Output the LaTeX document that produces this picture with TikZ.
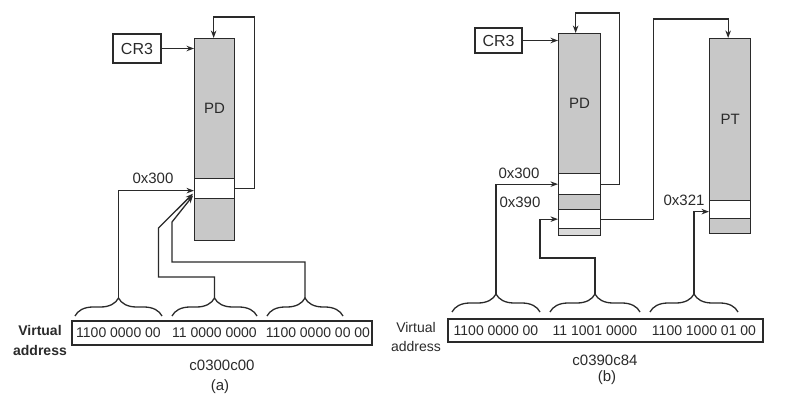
\documentclass[tikz,border=0pt]{standalone}
\usepackage{fontspec}
\setmainfont{Liberation Sans}
\usetikzlibrary{arrows.meta,decorations.pathreplacing,calc}
\definecolor{ink}{HTML}{2A2A2A}
\definecolor{shade}{HTML}{C8C8C8}
\definecolor{lshade}{HTML}{DADADA}
\tikzset{
  ln/.style={draw=ink, line width=1.3pt},
  arr/.style={ln, -{Stealth[length=7.5pt,width=5.5pt]}},
  cell/.style={draw=ink, line width=1.3pt, inner sep=0pt, anchor=north west, minimum width=#1},
  gcell/.style={cell=#1, fill=shade},
  wcell/.style={cell=#1, fill=white},
  lcell/.style={cell=#1, fill=lshade},
  txt/.style={inner sep=0pt, text=ink, font=\fontsize{15}{17}\selectfont},
  addr/.style={inner sep=0pt, text=ink, font=\fontsize{14}{16}\selectfont},
  regbox/.style={draw=ink, line width=1.3pt, inner sep=0pt, text=ink, font=\fontsize{16}{18}\selectfont},
  brc/.style={ln, decorate, decoration={brace, amplitude=18pt}},
}
\begin{document}
\begin{tikzpicture}[x=1pt,y=-1pt]
\useasboundingbox (0,0) rectangle (785,396);

% ---------------- (a) ----------------
\node[regbox, minimum width=48pt, minimum height=29pt] (crA) at (137,48.5) {CR3};
\node[gcell=40pt, minimum height=140pt, txt] (pdA) at (194,38) {PD};
\node[wcell=40pt, minimum height=20pt] (slotA) at (194,178) {};
\node[gcell=40pt, minimum height=42pt] (pdAb) at (194,198) {};
\node[txt] (lA300) at (153,178) {0x300};

\draw[arr] (crA.east) -- (crA.east -| pdA.west);
\draw[arr] (slotA.east) -- ++(19,0) |- ($(pdA.north)+(-1,-21)$) -- ($(pdA.north)+(-1,0)$);

\draw[brc] (75,316) -- (162,316);
\draw[brc] (172,316) -- (257,316);
\draw[brc] (267,316) -- (343,316);
\coordinate (tA1) at (118.5,298);
\coordinate (tA2) at (214.5,298);
\coordinate (tA3) at (305,298);

\draw[arr] (tA1) |- ($(slotA.west)+(0,2)$);
\draw[arr] (tA2) -- ++(0,-21) -- ++(-56,0) -- ++(0,-49) -- ($(slotA.west)+(-1,5)$);
\draw[arr] (tA3) -- ++(0,-36) -- ++(-133,0) -- ++(0,-40) -- ($(slotA.west)+(-1,7)$);

\node[draw=ink, line width=1.3pt, minimum width=300pt, minimum height=24pt, inner sep=0pt] (boxA) at (222,333) {};
\node[addr] (gA1) at (118.5,333) {1100 0000 00};
\node[addr] (gA2) at (214.5,333) {11 0000 0000};
\node[addr] (gA3) at (318,333) {1100 0000 00 00};
\node[addr, font=\fontsize{14}{20}\selectfont\bfseries, align=center] (vA) at (40,340) {Virtual\\address};
\node[txt] (hexA) at (222,365) {c0300c00};
\node[txt] (capA) at (220,387) {(a)};

% ---------------- (b) ----------------
\node[regbox, minimum width=47pt, minimum height=25pt] (crB) at (498.5,40.5) {CR3};
\node[gcell=42pt, minimum height=140pt, txt] (pdB) at (558,33) {PD};
\node[wcell=42pt, minimum height=21pt] (s1B) at (558,173) {};
\node[gcell=42pt, minimum height=15pt] (g2B) at (558,194) {};
\node[wcell=42pt, minimum height=19pt] (s2B) at (558,209) {};
\node[lcell=42pt, minimum height=7pt] (stB) at (558,228) {};
\node[txt] (lB300) at (519,173) {0x300};
\node[txt] (lB390) at (520,202) {0x390};

\node[gcell=41pt, minimum height=162pt, txt] (ptB) at (709,38) {PT};
\node[wcell=41pt, minimum height=18pt] (ptS) at (709,200) {};
\node[gcell=41pt, minimum height=15pt] (ptb) at (709,218) {};
\node[txt] (lB321) at (684,200) {0x321};

\draw[arr] (crB.east) -- (crB.east -| pdB.west);
\draw[arr] (s1B.east) -- ++(18,0) |- ($(pdB.north)+(-4,-20)$) -- ($(pdB.north)+(-4,0)$);
\draw[arr] (s2B.east) -- ++(52,0) |- ($(ptB.north)+(-2,-19)$) -- ($(ptB.north)+(-2,0)$);

\draw[brc] (452,312) -- (540,312);
\draw[brc] (550,312) -- (640,312);
\draw[brc] (650,312) -- (738,312);
\coordinate (tB1) at (496,294);
\coordinate (tB2) at (595,294);
\coordinate (tB3) at (694,294);

\draw[arr] (tB1) |- (s1B.west);
\draw[arr] (tB2) -- ++(0,-36) -- ++(-55,0) |- (s2B.west);
\draw[arr] (tB3) |- ($(ptS.west)+(0,2)$);

\node[draw=ink, line width=1.3pt, minimum width=315pt, minimum height=23pt, inner sep=0pt] (boxB) at (605.5,330.5) {};
\node[addr] (gB1) at (496,331) {1100 0000 00};
\node[addr] (gB2) at (595,331) {11 1001 0000};
\node[addr] (gB3) at (704,331) {1100 1000 01 00};
\node[addr, font=\fontsize{14}{19}\selectfont, align=center] (vB) at (416,337) {Virtual\\address};
\node[txt] (hexB) at (605,360) {c0390c84};
\node[txt] (capB) at (607,378) {(b)};
\end{tikzpicture}
\end{document}
